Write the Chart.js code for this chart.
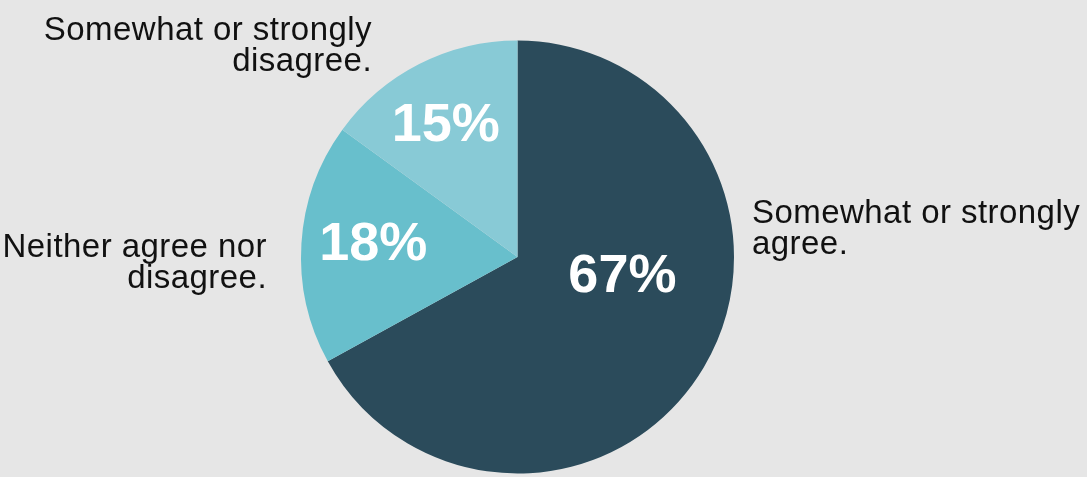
<!DOCTYPE html>
<html>
<head>
<meta charset="utf-8">
<script src="https://cdn.jsdelivr.net/npm/chart.js@4.4.0/dist/chart.umd.min.js"></script>
<style>
  html, body { margin:0; padding:0; background:#e6e6e6; }
  #wrap { width:1087px; height:477px; position:relative; }
</style>
</head>
<body>
<div id="wrap"><canvas id="mycanvas"></canvas></div>
<script>
// data
var categories = ['Somewhat or strongly agree.', 'Neither agree nor disagree.', 'Somewhat or strongly disagree.'];
var shares = [67, 18, 15];
var sliceColors = ['#2b4b5b', '#68bfcc', '#88cad6'];
// label text lines (outside the pie)
var outsideLines = [
  ['Somewhat or strongly', 'agree.'],
  ['Neither agree nor', 'disagree.'],
  ['Somewhat or strongly', 'disagree.']
];

// where labels sit: [radius fraction, angle shift in degrees from slice middle]
var pctPlace = [[0.49, -22], [0.67, 2.7], [0.706, -1]];
// outside label anchor + alignment
var outsidePlace = [
  { x: 752, y: 223, align: 'left' },
  { x: 267, y: 257, align: 'right' },
  { x: 372, y: 40, align: 'right' }
];

var labelPlugin = {
  id: 'labels',
  afterDatasetsDraw: function(chart) {
    var ctx = chart.ctx;
    var meta = chart.getDatasetMeta(0);
    ctx.save();
    meta.data.forEach(function(arc, i) {
      var p = arc.getProps(['x', 'y', 'startAngle', 'endAngle', 'outerRadius']);
      var mid = (p.startAngle + p.endAngle) / 2 + pctPlace[i][1] * Math.PI / 180;
      var rr = p.outerRadius * pctPlace[i][0];
      var lx = p.x + Math.cos(mid) * rr;
      var ly = p.y + Math.sin(mid) * rr;
      ctx.fillStyle = '#ffffff';
      ctx.letterSpacing = '0px';
      ctx.font = 'bold 54px "Liberation Sans", Arial, sans-serif';
      ctx.textAlign = 'center';
      ctx.textBaseline = 'alphabetic';
      ctx.fillText(shares[i] + '%', lx, ly + 19);

      var o = outsidePlace[i];
      ctx.fillStyle = '#111111';
      ctx.font = '33px "Liberation Sans", Arial, sans-serif';
      ctx.letterSpacing = '0.45px';
      ctx.textAlign = o.align;
      outsideLines[i].forEach(function(line, k) {
        ctx.fillText(line, o.x, o.y + k * 31);
      });
    });
    ctx.restore();
  }
};

var ctx = document.getElementById('mycanvas');
var pie = new Chart(ctx, {
  type: 'pie',
  data: {
    labels: categories,
    datasets: [{
      data: shares,
      backgroundColor: sliceColors,
      borderWidth: 0
    }]
  },
  options: {
    responsive: true,
    maintainAspectRatio: false,
    animation: false,
    layout: { padding: { top: 40.5, bottom: 3.5, left: 301, right: 353 } },
    plugins: {
      legend: { display: false },
      tooltip: { enabled: false }
    }
  },
  plugins: [labelPlugin]
});
</script>
</body>
</html>
